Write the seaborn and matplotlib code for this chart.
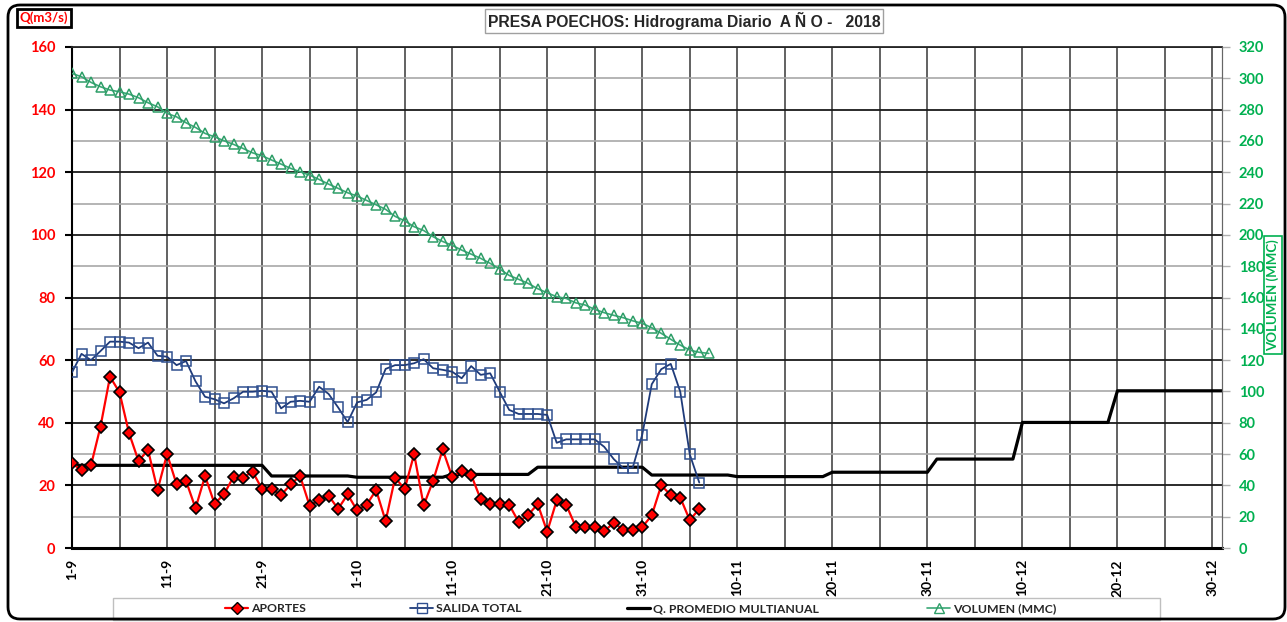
import numpy as np
import pandas as pd
import matplotlib
matplotlib.use('Agg')
import matplotlib.pyplot as plt
from matplotlib.patches import FancyBboxPatch, Rectangle
from matplotlib.lines import Line2D
from matplotlib.transforms import IdentityTransform
import seaborn as sns

# Datos diarios desde el 1-9 (dia 0)
aportes = [27.0, 24.9, 26.4, 38.8, 54.7, 49.7, 36.7, 27.8, 31.3, 18.5,
           30.0, 20.4, 21.4, 12.7, 23.0, 14.1, 17.2, 22.8, 22.5, 24.4,
           18.8, 18.8, 16.9, 20.3, 23.0, 13.5, 15.3, 16.7, 12.5, 17.1,
           12.0, 13.8, 18.5, 8.6, 22.5, 18.8, 30.0, 13.6, 21.5, 31.5,
           22.7, 24.6, 23.3, 15.6, 13.9, 14.0, 13.8, 8.3, 10.6, 14.0,
           5.2, 15.2, 13.8, 6.8, 6.8, 6.7, 5.4, 8.0, 5.9, 5.9,
           6.7, 10.4, 20.0, 16.9, 16.1, 8.9, 12.5]

salida_total = [56.1, 62.0, 60.0, 62.9, 65.9, 65.9, 65.6, 63.8, 65.6, 61.4,
                61.1, 58.4, 59.7, 53.2, 48.3, 47.5, 46.2, 47.8, 49.9, 49.9,
                50.2, 49.9, 44.6, 46.7, 47.0, 46.7, 51.5, 49.2, 44.9, 40.2,
                46.5, 47.3, 49.7, 57.2, 58.4, 58.4, 59.0, 60.3, 57.4, 56.9,
                56.3, 54.2, 58.1, 55.3, 55.8, 49.9, 44.1, 42.8, 42.8, 42.8,
                42.5, 33.6, 34.7, 34.7, 34.7, 34.7, 32.3, 28.4, 25.5, 25.7,
                36.2, 52.3, 57.1, 58.8, 49.9, 29.9, 20.9]

volumen = [303.1, 301.0, 297.4, 294.6, 292.5, 291.4, 289.9, 287.6, 284.4, 281.8,
           277.6, 275.4, 271.6, 268.6, 264.8, 262.6, 260.1, 257.8, 255.2, 252.4,
           250.5, 247.8, 245.2, 242.5, 240.3, 238.2, 235.4, 232.4, 229.7, 226.9,
           224.8, 222.0, 219.2, 216.3, 211.8, 209.0, 205.2, 202.8, 198.8, 195.8,
           193.3, 190.3, 187.7, 185.0, 181.8, 178.2, 174.1, 171.6, 169.0, 165.6,
           163.0, 160.5, 159.4, 156.6, 155.2, 152.4, 150.3, 148.6, 147.1, 145.1,
           143.5, 140.7, 137.1, 133.3, 129.6, 126.4, 125.0, 124.3]

# Q promedio multianual por tramo (dia de inicio y valor)
prom_inicio = [0, 10, 21, 30, 40, 49, 61, 70, 80, 91, 100, 110]
prom_valor = [26.4, 26.4, 23.0, 22.6, 23.5, 25.8, 23.3, 22.8, 24.2, 28.4, 40.1, 50.2]
dia_final = 121

tick_dias = [0, 10, 20, 30, 40, 50, 60, 70, 80, 90, 100, 110, 120]
tick_labels = ['1-9', '11-9', '21-9', '1-10', '11-10', '21-10', '31-10',
               '10-11', '20-11', '30-11', '10-12', '20-12', '30-12']

df_ap = pd.DataFrame({'dia': np.arange(len(aportes)), 'q': aportes})
df_sal = pd.DataFrame({'dia': np.arange(len(salida_total)), 'q': salida_total})
df_vol = pd.DataFrame({'dia': np.arange(len(volumen)), 'v': volumen})

xs, ys = [], []
for i, ini in enumerate(prom_inicio):
    fin = prom_inicio[i + 1] - 1 if i + 1 < len(prom_inicio) else dia_final
    xs += [ini, fin]
    ys += [prom_valor[i], prom_valor[i]]
df_prom = pd.DataFrame({'dia': xs, 'q': ys})

sns.set_style('white')
plt.rcParams['font.family'] = ['Lato', 'DejaVu Sans']

W, H = 1287, 622
fig = plt.figure(figsize=(W / 100, H / 100), dpi=100)
ax = fig.add_axes([72 / W, 1 - 548 / H, (1222 - 72) / W, (548 - 47) / H])

red = '#FF0000'
green = '#00B050'
navy = '#1F3B7A'
vgreen = '#3AA876'

sns.lineplot(data=df_prom, x='dia', y='q', ax=ax, estimator=None, sort=False,
             color='black', linewidth=2.3, zorder=3)
sns.lineplot(data=df_sal, x='dia', y='q', ax=ax, estimator=None,
             color=navy, linewidth=1.3, marker='s', markersize=7,
             markerfacecolor='none', markeredgecolor='#2F4F8F', markeredgewidth=1.1, zorder=4)
sns.lineplot(data=df_ap, x='dia', y='q', ax=ax, estimator=None,
             color=red, linewidth=1.6, marker='D', markersize=6.3,
             markerfacecolor=red, markeredgecolor='black', markeredgewidth=1.2, zorder=5)

ax.set_xlim(0, 121)
ax.set_ylim(0, 160)
ax.set_xticks(tick_dias)
ax.set_xticklabels(tick_labels, rotation=90, fontsize=10, fontweight='bold')
ax.set_xticks([d + 5 for d in tick_dias if d + 5 < 121], minor=True)
ax.set_yticks(np.arange(0, 161, 20))
ax.set_yticks(np.arange(0, 161, 10), minor=True)
ax.tick_params(axis='y', which='major', colors='black', labelcolor=red, labelsize=10.5,
               length=5, width=1.5, pad=7)
ax.tick_params(axis='y', which='minor', length=0)
ax.tick_params(axis='x', which='both', length=4, width=1.5, pad=4, colors='black')
for lab in ax.get_yticklabels():
    lab.set_fontweight('bold')
ax.grid(which='major', axis='y', color='#1a1a1a', linewidth=1.3)
ax.grid(which='minor', axis='y', color='#a8a8a8', linewidth=1.2)
ax.grid(which='both', axis='x', color='#555555', linewidth=1.3)
ax.set_axisbelow(True)
ax.set_xlabel('')
ax.set_ylabel('')
ax.spines['bottom'].set_linewidth(2.2)
ax.spines['bottom'].set_color('black')
ax.spines['left'].set_linewidth(1.5)
ax.spines['left'].set_color('black')
ax.spines['top'].set_linewidth(1.3)
ax.spines['right'].set_color('#666666')

ax2 = ax.twinx()
sns.lineplot(data=df_vol, x='dia', y='v', ax=ax2, estimator=None,
             color=vgreen, linewidth=1.2, marker='^', markersize=7.5,
             markerfacecolor='none', markeredgecolor='#2E9E68', markeredgewidth=1.1)
ax2.set_ylim(0, 320)
ax2.set_yticks(np.arange(0, 321, 20))
ax2.tick_params(axis='y', colors='#b0b0b0', labelcolor=green, labelsize=10.5,
                length=6, width=1, pad=6)
for lab in ax2.get_yticklabels():
    lab.set_fontweight('bold')
ax2.grid(False)
ax2.set_ylabel('')
ax2.set_xlabel('')
for s in ['top', 'left', 'bottom']:
    ax2.spines[s].set_visible(False)
ax2.spines['right'].set_color('#666666')

# titulo y etiquetas de ejes en recuadros
fig.text(684 / W, 1 - 21 / H, 'PRESA POECHOS: Hidrograma Diario  A Ñ O -   2018',
         ha='center', va='center', fontsize=11.3, fontweight='bold',
         family=['Liberation Sans', 'DejaVu Sans'],
         bbox=dict(boxstyle='square,pad=0.2', fc='white', ec='#a0a0a0', lw=1))
fig.text(44 / W, 1 - 18 / H, 'Q(m3/s)', ha='center', va='center', fontsize=9.5,
         fontweight='bold', color=red,
         bbox=dict(boxstyle='square,pad=0.2', fc='white', ec='black', lw=2))
fig.text(1273 / W, 1 - 295 / H, 'VOLUMEN (MMC)', ha='center', va='center', fontsize=9.5,
         fontweight='bold', color=green, rotation=90,
         bbox=dict(boxstyle='square,pad=0.2', fc='white', ec=green, lw=1.2))

# leyenda: cada entrada en su sitio, dentro de un recuadro comun
handles = [
    Line2D([], [], color=red, lw=1.6, marker='D', markersize=6.3, markerfacecolor=red,
           markeredgecolor='black'),
    Line2D([], [], color=navy, lw=1.3, marker='s', markersize=7, markerfacecolor='none',
           markeredgecolor='#2F4F8F'),
    Line2D([], [], color='black', lw=2.3),
    Line2D([], [], color=vgreen, lw=1.2, marker='^', markersize=7.5, markerfacecolor='none',
           markeredgecolor='#2E9E68'),
]
labels = ['APORTES', 'SALIDA TOTAL', 'Q. PROMEDIO MULTIANUAL', 'VOLUMEN (MMC)']
leg_x = [225, 410, 627, 927]
for h, lab, lx in zip(handles, labels, leg_x):
    leg = fig.legend([h], [lab], loc='center left', bbox_to_anchor=(lx / W, 1 - 609 / H),
                     frameon=False, prop={'weight': 'bold', 'size': 8.8},
                     handlelength=1.9, handletextpad=0.2, borderaxespad=0, borderpad=0)
fig.patches.append(Rectangle((113 / W, 1 - 620 / H), (1160 - 113) / W, 22 / H,
                             transform=fig.transFigure, fc='none', ec='#bfbfbf', lw=1))

# marco redondeado de la figura
fig.patches.append(FancyBboxPatch((8, 3), 1277, 614,
                                  boxstyle='round,pad=0,rounding_size=12',
                                  transform=IdentityTransform(), fc='none', ec='black', lw=2))

fig.savefig('out.png', dpi=100)
